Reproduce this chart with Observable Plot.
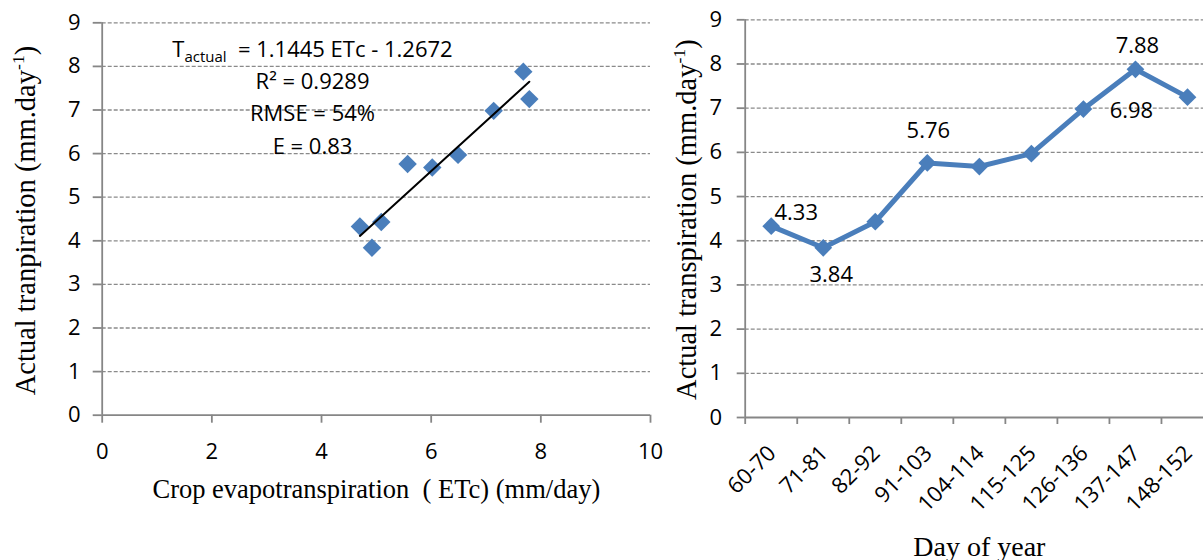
<!DOCTYPE html>
<html>
<head>
<meta charset="utf-8">
<script src="https://cdn.jsdelivr.net/npm/d3@7"></script>
<script src="https://cdn.jsdelivr.net/npm/@observablehq/plot@0.6"></script>
<style>
  html, body { margin: 0; padding: 0; background: #fff; overflow: hidden; width: 1203px; height: 560px; }
  #wrap { position: relative; width: 1203px; height: 560px; overflow: hidden; }
  #left, #right { position: absolute; top: 0; }
  #left { left: 0; }
  #right { left: 660px; }
  svg text, svg tspan { white-space: pre; }
</style>
</head>
<body>
<div id="wrap"><div id="left"></div><div id="right"></div></div>
<script>
// ---------------- data ----------------
const etc = [4.70, 4.92, 5.09, 5.57, 6.02, 6.49, 7.14, 7.68, 7.79];          // crop evapotranspiration (mm/day)
const days = ["60-70", "71-81", "82-92", "91-103", "104-114", "115-125", "126-136", "137-147", "148-152"];
const tActual = [4.33, 3.84, 4.43, 5.76, 5.68, 5.97, 6.98, 7.88, 7.25];     // actual transpiration (mm/day)
const labelled = ["60-70", "71-81", "91-103", "126-136", "137-147"];
const fitSlope = 1.1445;
const fitIntercept = -1.2672;
const annotationLines = ["T_{actual}  = 1.1445 ETc - 1.2672", "R² = 0.9289", "RMSE = 54%", "E = 0.83"];
const xTicksLeft = [0, 2, 4, 6, 8, 10];
const yTicks = [0, 1, 2, 3, 4, 5, 6, 7, 8, 9];
const leftXTitle = "Crop evapotranspiration  ( ETc) (mm/day)";
const leftYTitle = "Actual tranpiration (mm.day^{-1})";
const rightXTitle = "Day of year";
const rightYTitle = "Actual transpiration (mm.day^{-1})";

// ---------------- styles ----------------
const blue = "#4a7ebb";
const axisGray = "#868686";
const gridGray = "#8a8a8a";
const sans = "'Open Sans', 'Liberation Sans', sans-serif";
const serif = "'Liberation Serif', 'Times New Roman', serif";
const tickFs = 22;
const xTitleFs = 26.5;
const yTitleFs = 28.5;

const scatter = etc.map((x, i) => ({x, y: tActual[i]}));
const trend = [d3.min(etc), d3.max(etc)].map(x => ({x, y: fitSlope * x + fitIntercept}));
const series = days.map((d, i) => ({i, day: d, v: tActual[i]}));

const commonStyle = {fontFamily: sans, fontSize: tickFs + "px", background: "transparent", overflow: "visible", maxWidth: "none", color: "black"};

// ---------------- left: scatter ----------------
const leftPlot = Plot.plot({
  width: 668, height: 560,
  marginLeft: 101.7, marginRight: 18, marginTop: 22.3, marginBottom: 145.3,
  x: {domain: [0, 10]},
  y: {domain: [0, 9]},
  style: commonStyle,
  marks: [
    Plot.gridY(yTicks.filter(d => d > 0), {stroke: gridGray, strokeOpacity: 1, strokeWidth: 1.3, strokeDasharray: "4,2"}),
    Plot.axisY(yTicks, {tickSize: 9, tickPadding: 12.5, stroke: axisGray, strokeWidth: 1.8, fill: "black", label: null, fontSize: tickFs, fontFamily: sans}),
    Plot.axisX(xTicksLeft, {tickSize: 8, tickPadding: 20, stroke: axisGray, strokeWidth: 1.8, fill: "black", label: null, fontSize: tickFs, fontFamily: sans}),
    Plot.ruleY([0], {stroke: axisGray, strokeWidth: 1.8}),
    Plot.ruleX([0], {stroke: axisGray, strokeWidth: 1.8}),
    Plot.dot(scatter, {x: "x", y: "y", symbol: "diamond2", r: 8.3, fill: blue, stroke: "none"}),
    Plot.line(trend, {x: "x", y: "y", stroke: "black", strokeWidth: 2}),
    ...annotationLines.map((line, i) => Plot.text([line], {
      text: d => d, frameAnchor: "top-left", textAnchor: "middle", lineAnchor: "bottom",
      dx: 210.3, dy: 33.7 + i * 32.4, fontFamily: sans, fontSize: tickFs, fill: "black"
    })),
    Plot.text([leftXTitle], {text: d => d, frameAnchor: "bottom", lineAnchor: "bottom", dy: 82.6, fontFamily: serif, fontSize: xTitleFs, fill: "black"}),
    Plot.text([leftYTitle], {text: d => d, frameAnchor: "left", rotate: -90, textAnchor: "middle", lineAnchor: "middle", dx: -76.7, dy: 1.5, fontFamily: serif, fontSize: yTitleFs, fill: "black"})
  ]
});

// ---------------- right: line ----------------
const idx = days.map((d, i) => i);
const labelMarks = [
  ["60-70", 25, -13], ["71-81", 8, 27], ["91-103", 1, -32], ["126-136", 48, 2], ["137-147", 2, -23]
].filter(([c]) => labelled.includes(c)).map(([c, dx, dy]) =>
  Plot.text(series.filter(d => d.day === c), {x: "i", y: "v", text: d => d3.format(".2f")(d.v), dx, dy, lineAnchor: "middle", fontFamily: sans, fontSize: tickFs, fill: "black"})
);

const rightPlot = Plot.plot({
  width: 553, height: 560,
  marginLeft: 84.7, marginRight: 0, marginTop: 19.3, marginBottom: 143,
  x: {domain: [-0.5, days.length - 0.5]},
  y: {domain: [0, 9]},
  style: commonStyle,
  marks: [
    Plot.gridY(yTicks.filter(d => d > 0), {stroke: gridGray, strokeOpacity: 1, strokeWidth: 1.3, strokeDasharray: "4,2"}),
    Plot.axisY(yTicks, {tickSize: 8, tickPadding: 15, stroke: axisGray, strokeWidth: 1.8, fill: "black", label: null, fontSize: tickFs, fontFamily: sans}),
    Plot.axisX(idx.map(i => i - 0.5), {tickSize: 7, tickFormat: () => "", stroke: axisGray, strokeWidth: 1.8, label: null}),
    Plot.axisX(idx, {tickSize: 0, tickPadding: 32, dx: 1, tickRotate: -45, tickFormat: i => days[i], fill: "black", label: null, fontSize: tickFs, fontFamily: sans}),
    Plot.ruleY([0], {stroke: axisGray, strokeWidth: 1.8}),
    Plot.ruleX([-0.5], {stroke: axisGray, strokeWidth: 1.8}),
    Plot.line(series, {x: "i", y: "v", stroke: blue, strokeWidth: 5}),
    Plot.dot(series, {x: "i", y: "v", symbol: "diamond2", r: 8, fill: blue, stroke: "none"}),
    ...labelMarks,
    Plot.text([rightXTitle], {text: d => d, frameAnchor: "bottom", lineAnchor: "bottom", dy: 138, fontFamily: serif, fontSize: 28, fill: "black"}),
    Plot.text([rightYTitle], {text: d => d, frameAnchor: "left", rotate: -90, textAnchor: "middle", lineAnchor: "middle", dx: -58.7, dy: 1, fontFamily: serif, fontSize: yTitleFs, fill: "black"})
  ]
});

document.getElementById("left").appendChild(leftPlot);
document.getElementById("right").appendChild(rightPlot);

// ---------------- rich text (sub/superscripts) ----------------
function richText(svg) {
  svg.querySelectorAll("text").forEach(t => {
    const s = t.textContent;
    if (!/[\^_]\{/.test(s)) return;
    const fs = parseFloat(getComputedStyle(t).fontSize);
    const parts = s.split(/([\^_]\{[^}]*\})/).filter(p => p !== "");
    t.textContent = "";
    let shift = 0;
    for (const p of parts) {
      const m = p.match(/^([\^_])\{([^}]*)\}$/);
      const ts = document.createElementNS("http://www.w3.org/2000/svg", "tspan");
      if (m) {
        const target = m[1] === "^" ? -0.36 * fs : 0.27 * fs;
        ts.setAttribute("dy", target - shift);
        shift = target;
        ts.setAttribute("font-size", (m[1] === "^" ? 0.62 : 0.68) * fs);
        ts.textContent = m[2];
      } else {
        ts.setAttribute("dy", -shift);
        shift = 0;
        ts.textContent = p;
      }
      t.appendChild(ts);
    }
  });
}
richText(leftPlot);
richText(rightPlot);
</script>
</body>
</html>
